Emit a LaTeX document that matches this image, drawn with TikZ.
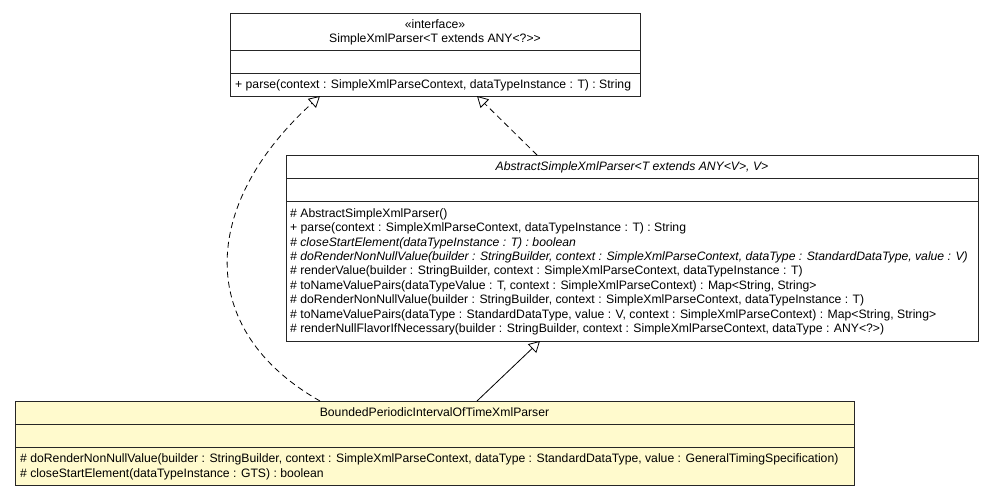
\documentclass[tikz,border=0pt]{standalone}
\usepackage{fontspec}
\setmainfont{Liberation Sans}
\usetikzlibrary{arrows.meta}
\definecolor{classfill}{HTML}{FFFACD}
\begin{document}
\begin{tikzpicture}[x=1pt,y=-1pt,
  umlbox/.style={draw=black!85, line width=0.9pt, rectangle, inner sep=0pt, anchor=north west},
  txt/.style={inner sep=0pt, anchor=base west, font=\fontsize{12.2}{14}\selectfont},
  ttl/.style={inner sep=0pt, anchor=base, font=\fontsize{12.2}{14}\selectfont},
  divider/.style={draw=black!85, line width=0.9pt},
  umltip/.style={-{Triangle[length=11pt,width=12pt,fill=white]}},
  realize/.style={draw=black, line width=0.8pt, dash pattern=on 6pt off 4pt, umltip},
  inherit/.style={draw=black, line width=0.8pt, umltip}]
\fill[white] (0,0) rectangle (997,496);
\useasboundingbox (0,0) rectangle (997,496);

% Interface box
\node[umlbox, minimum width=410pt, minimum height=83pt] (iface) at (230,13) {};
\draw[divider] ([yshift=-37pt]iface.north west) -- ([yshift=-37pt]iface.north east);
\draw[divider] ([yshift=-60pt]iface.north west) -- ([yshift=-60pt]iface.north east);
\node[ttl] (ifst) at (435,28) {«interface»};
\node[ttl] (ifname) at (435,42.5) {SimpleXmlParser<T extends ANY<?>{}>};
\node[txt] (ifm1) at (235,88.3) {+ parse(context : SimpleXmlParseContext, dataTypeInstance : T) : String};

% Abstract box
\node[umlbox, minimum width=692pt, minimum height=186pt] (abs) at (286,155) {};
\draw[divider] ([yshift=-23pt]abs.north west) -- ([yshift=-23pt]abs.north east);
\draw[divider] ([yshift=-46pt]abs.north west) -- ([yshift=-46pt]abs.north east);
\node[ttl] (absname) at (632,170.8) {\itshape AbstractSimpleXmlParser<T extends ANY<V>, V>};
\node[txt] (am1) at (290,217.3) {\# AbstractSimpleXmlParser()};
\node[txt] (am2) at (290,231.7) {+ parse(context : SimpleXmlParseContext, dataTypeInstance : T) : String};
\node[txt] (am3) at (290,246.1) {\itshape \# closeStartElement(dataTypeInstance : T) : boolean};
\node[txt] (am4) at (290,260.5) {\itshape \# doRenderNonNullValue(builder : StringBuilder, context : SimpleXmlParseContext, dataType : StandardDataType, value : V)};
\node[txt] (am5) at (290,274.9) {\# renderValue(builder : StringBuilder, context : SimpleXmlParseContext, dataTypeInstance : T)};
\node[txt] (am6) at (290,289.3) {\# toNameValuePairs(dataTypeValue : T, context : SimpleXmlParseContext) : Map<String, String>};
\node[txt] (am7) at (290,303.7) {\# doRenderNonNullValue(builder : StringBuilder, context : SimpleXmlParseContext, dataTypeInstance : T)};
\node[txt] (am8) at (290,318.1) {\# toNameValuePairs(dataType : StandardDataType, value : V, context : SimpleXmlParseContext) : Map<String, String>};
\node[txt] (am9) at (290,332.5) {\# renderNullFlavorIfNecessary(builder : StringBuilder, context : SimpleXmlParseContext, dataType : ANY<?>)};

% Bounded box
\node[umlbox, fill=classfill, minimum width=839pt, minimum height=84pt] (bnd) at (15,401) {};
\draw[divider] ([yshift=-23pt]bnd.north west) -- ([yshift=-23pt]bnd.north east);
\draw[divider] ([yshift=-46pt]bnd.north west) -- ([yshift=-46pt]bnd.north east);
\node[ttl] (bndname) at (434.5,416.8) {BoundedPeriodicIntervalOfTimeXmlParser};
\node[txt] (bm1) at (20,462.8) {\# doRenderNonNullValue(builder : StringBuilder, context : SimpleXmlParseContext, dataType : StandardDataType, value : GeneralTimingSpecification)};
\node[txt] (bm2) at (20,477.2) {\# closeStartElement(dataTypeInstance : GTS) : boolean};

% connector end points on the borders
\coordinate (absTop) at (537,155);
\coordinate (ifBotR) at (477,96);
\coordinate (ifBotL) at (320,96);
\coordinate (bndTopL) at (320,401);
\coordinate (bndTopR) at (477,401);
\coordinate (absBot) at (540,341);

\draw[realize] (absTop) -- (ifBotR);
\draw[inherit] (bndTopR) -- (absBot);
\draw[realize] (bndTopL) .. controls (195,330) and (200,205) .. (ifBotL);
\end{tikzpicture}
\end{document}
